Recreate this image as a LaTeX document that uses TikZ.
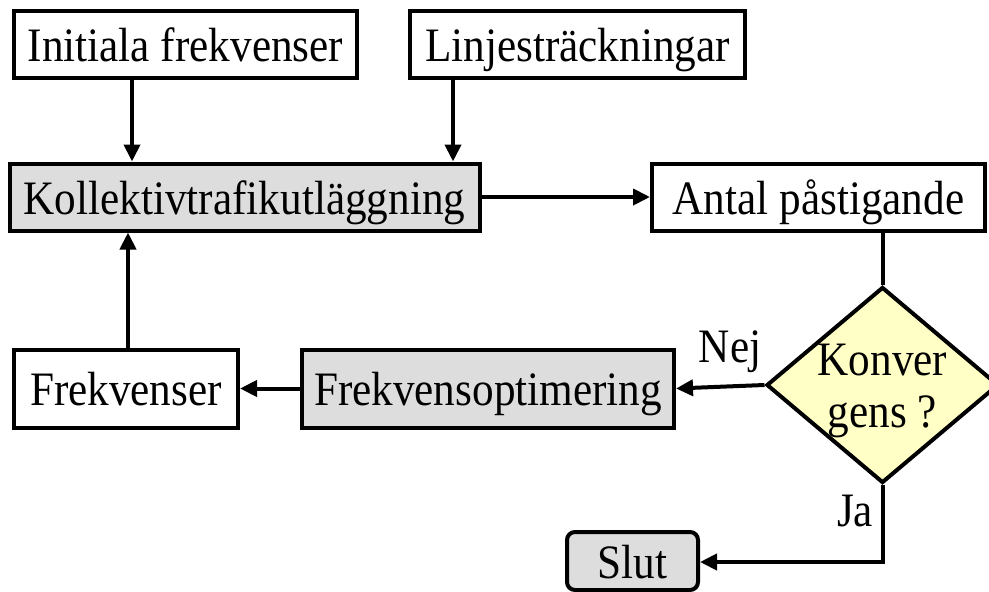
\documentclass[tikz,border=0pt]{standalone}
\usepackage{fontspec}
\setmainfont[FakeStretch=0.9]{Liberation Serif}
\usetikzlibrary{shapes.geometric,arrows.meta}
\definecolor{boxgray}{HTML}{DDDDDD}
\definecolor{diayellow}{HTML}{FFFFC6}
\begin{document}
\begin{tikzpicture}[x=1pt,y=-1pt,
  every node/.style={font=\fontsize{48}{52}\selectfont, inner sep=0pt},
  box/.style={draw, line width=4pt, minimum height=67pt, fill=white, text height=40pt, text depth=6pt},
  graybox/.style={box, fill=boxgray},
  decision/.style={draw, line width=4pt, diamond, fill=diayellow, minimum width=232pt, minimum height=196pt},
  conn/.style={line width=4pt, -{Triangle[length=17pt,width=16pt]}},
  plain/.style={line width=4pt}]
\useasboundingbox (0,0) rectangle (989,592);
\node[box, minimum width=343pt] (init) at (185.5,44.5) {Initiala frekvenser};
\node[box, minimum width=335pt] (linje) at (577.5,44.5) {Linjesträckningar};
\node[graybox, minimum width=470pt] (koll) at (244.5,197) {Kollektivtrafikutläggning};
\node[box, minimum width=224pt, minimum height=78pt] (frek) at (126,388.5) {Frekvenser};
\node[box, minimum width=333pt] (antal) at (818.5,197) {Antal påstigande};
\node[graybox, minimum width=372pt, minimum height=78pt] (opt) at (488,388.5) {Frekvensoptimering};
\node[decision] (konv) at (882.5,385) {};
\node[anchor=base] (konv1) at (882.5,375) {Konver};
\node[anchor=base] (konv2) at (882.5,427) {gens ?};
\node[draw, line width=4pt, fill=boxgray, rounded corners=8pt, minimum width=131pt, minimum height=58pt, text height=40pt, text depth=6pt] (slut) at (632.5,561) {Slut};
\node[anchor=base] (nej) at (730,362) {Nej};
\node[anchor=base] (ja) at (855,526) {Ja};
\draw[conn] (init.south -| 132,0) -- (koll.north -| 132,0);
\draw[conn] (linje.south -| 453,0) -- (koll.north -| 453,0);
\draw[conn] (koll.east) -- (antal.west);
\draw[plain] (antal.south -| konv.north) -- (konv.north);
\draw[conn] (konv.west) -- (opt.east);
\draw[conn] (opt.west) -- (frek.east);
\draw[conn] (frek.north -| 128,0) -- (koll.south -| 128,0);
\coordinate (corner) at (882.5,562);
\draw[conn] (konv.south) -- (corner) -- (slut.east |- corner);
\end{tikzpicture}
\end{document}
